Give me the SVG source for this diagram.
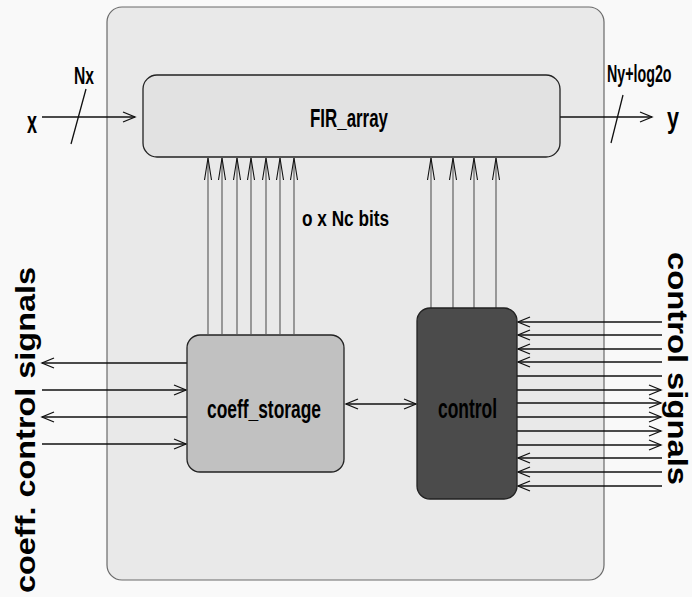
<svg xmlns="http://www.w3.org/2000/svg" width="692" height="597" viewBox="0 0 692 597">
<style>
.lbl{font-family:"Liberation Sans",Arial,sans-serif;fill:#000;font-weight:bold}
.sig{stroke:#111;stroke-width:1.3;fill:none}
.bus{stroke:#555;stroke-width:1.1;fill:none}
.arr{marker-end:url(#ah)}
.barr{marker-end:url(#vh)}
</style>
<defs>
<marker id="ah" markerUnits="userSpaceOnUse" markerWidth="16" markerHeight="14" viewBox="-14 -7 16 14" refX="0" refY="0" orient="auto-start-reverse">
<path d="M-12,-5 L0,0 L-12,5" fill="none" stroke="#111" stroke-width="1.3"/>
</marker>
<marker id="vh" markerUnits="userSpaceOnUse" markerWidth="26" markerHeight="10" viewBox="-24 -5 26 10" refX="0" refY="0" orient="auto">
<path d="M-22,-3.5 L0,0 L-22,3.5" fill="none" stroke="#111" stroke-width="1.1"/>
</marker>
</defs>
<rect x="0" y="0" width="692" height="597" fill="#f9f9f9"/>
<g id="fir_filter">
<rect x="107" y="7" width="497" height="573" rx="15" ry="15" fill="#e9e9e9" stroke="#6a6a6a" stroke-width="1.2"/>
</g>
<g id="connectors">
<line class="sig arr" x1="42" y1="117" x2="135" y2="117"/>
<line class="sig" x1="86" y1="89" x2="71" y2="144"/>
<line class="sig arr" x1="560" y1="117" x2="652" y2="117"/>
<line class="sig" x1="623" y1="95" x2="611" y2="143"/>
<line class="bus barr" x1="208" y1="334" x2="208" y2="158"/>
<line class="bus barr" x1="222" y1="334" x2="222" y2="158"/>
<line class="bus barr" x1="237" y1="334" x2="237" y2="158"/>
<line class="bus barr" x1="251" y1="334" x2="251" y2="158"/>
<line class="bus barr" x1="266" y1="334" x2="266" y2="158"/>
<line class="bus barr" x1="280" y1="334" x2="280" y2="158"/>
<line class="bus barr" x1="294" y1="334" x2="294" y2="158"/>
<line class="bus barr" x1="431" y1="308" x2="431" y2="158"/>
<line class="bus barr" x1="453" y1="308" x2="453" y2="158"/>
<line class="bus barr" x1="474" y1="308" x2="474" y2="158"/>
<line class="bus barr" x1="496" y1="308" x2="496" y2="158"/>
<line class="sig" x1="346" y1="404" x2="416" y2="404" marker-start="url(#ah)" marker-end="url(#ah)"/>
<line class="sig arr" x1="187" y1="363" x2="42" y2="363"/>
<line class="sig arr" x1="42" y1="390" x2="186" y2="390"/>
<line class="sig arr" x1="187" y1="417" x2="42" y2="417"/>
<line class="sig arr" x1="42" y1="444" x2="186" y2="444"/>
<line class="sig arr" x1="662" y1="322" x2="518" y2="322"/>
<line class="sig arr" x1="662" y1="335" x2="518" y2="335"/>
<line class="sig arr" x1="662" y1="349" x2="518" y2="349"/>
<line class="sig arr" x1="662" y1="362" x2="518" y2="362"/>
<line class="sig" x1="517" y1="376" x2="662" y2="376"/>
<line class="sig arr" x1="517" y1="390" x2="661" y2="390"/>
<line class="sig arr" x1="517" y1="403" x2="661" y2="403"/>
<line class="sig arr" x1="517" y1="417" x2="661" y2="417"/>
<line class="sig arr" x1="517" y1="431" x2="661" y2="431"/>
<line class="sig arr" x1="517" y1="445" x2="661" y2="445"/>
<line class="sig arr" x1="662" y1="458" x2="518" y2="458"/>
<line class="sig arr" x1="662" y1="472" x2="518" y2="472"/>
<line class="sig arr" x1="662" y1="486" x2="518" y2="486"/>
</g>
<g id="fir_array">
<rect x="143" y="75" width="417" height="82" rx="14" ry="14" fill="#e2e2e2" stroke="#222" stroke-width="1.3"/>
<text class="lbl" x="310" y="127" font-size="25" textLength="78" lengthAdjust="spacingAndGlyphs">FIR_array</text>
</g>
<g id="coeff_storage">
<rect x="187" y="335" width="157" height="137" rx="13" ry="13" fill="#c1c1c1" stroke="#222" stroke-width="1.3"/>
<text class="lbl" x="207" y="418" font-size="26" textLength="114" lengthAdjust="spacingAndGlyphs">coeff_storage</text>
</g>
<g id="control">
<rect x="417" y="308" width="100" height="191" rx="13" ry="13" fill="#4b4b4b" stroke="#222" stroke-width="1.3"/>
<text class="lbl" x="438" y="418" font-size="27" textLength="59" lengthAdjust="spacingAndGlyphs">control</text>
</g>
<g id="labels">
<text class="lbl" x="27" y="133" font-size="31" textLength="10" lengthAdjust="spacingAndGlyphs">x</text>
<text class="lbl" x="667" y="128" font-size="29" textLength="12" lengthAdjust="spacingAndGlyphs">y</text>
<text class="lbl" x="74" y="84" font-size="23" textLength="20" lengthAdjust="spacingAndGlyphs">Nx</text>
<text class="lbl" font-size="23" transform="translate(607,82) scale(0.62,1)">Ny+log2o</text>
<text class="lbl" x="302" y="226" font-size="22" textLength="87" lengthAdjust="spacingAndGlyphs">o x Nc bits</text>
<text class="lbl" font-size="27" textLength="326" lengthAdjust="spacingAndGlyphs" transform="translate(35,593) rotate(-90)">coeff. control signals</text>
<text class="lbl" font-size="27" textLength="233" lengthAdjust="spacingAndGlyphs" transform="translate(668,252) rotate(90)">control signals</text>
</g>
</svg>
